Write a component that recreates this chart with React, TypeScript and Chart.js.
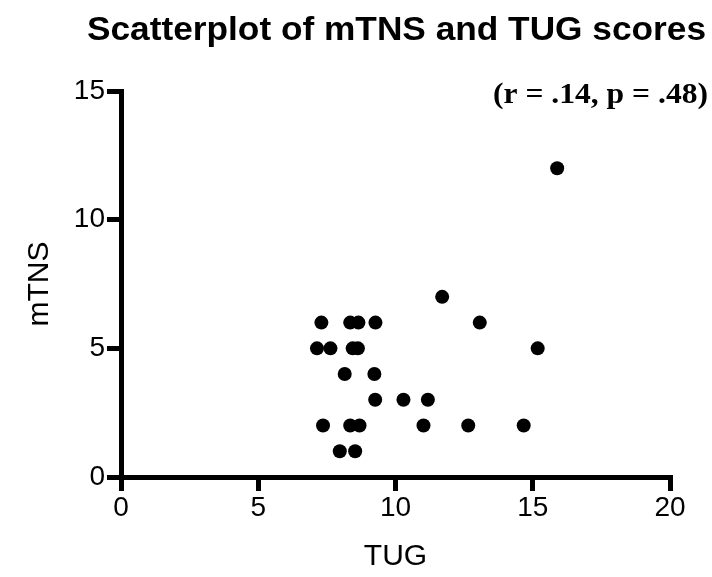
import React, { useEffect, useRef } from "react";
import { Chart, registerables } from "chart.js";

Chart.register(...registerables);

const tugValues = [7.3, 8.35, 8.65, 9.27, 13.07, 7.14, 7.63, 8.44, 8.63, 15.18, 8.15, 9.23, 9.26, 10.29, 11.18, 7.36, 8.35, 8.69, 11.02, 12.65, 14.67, 7.97, 8.53, 11.7, 15.89];
const mtnsValues = [6, 6, 6, 6, 6, 5, 5, 5, 5, 5, 4, 4, 3, 3, 3, 2, 2, 2, 2, 2, 2, 1, 1, 7, 12];
const xTicks = [0, 5, 10, 15, 20];
const yTicks = [0, 5, 10, 15];
const chartTitle = "Scatterplot of mTNS and TUG scores";
const statsNote = "(r = .14, p = .48)";
const xTitle = "TUG";
const yTitle = "mTNS";

function fitText(ctx: any, text: string, left: number, right: number, baseline: number) {
  const w = ctx.measureText(text).width;
  const sx = (right - left) / w;
  ctx.save();
  ctx.translate(left, baseline);
  ctx.scale(sx, 1);
  ctx.textAlign = "left";
  ctx.textBaseline = "alphabetic";
  ctx.fillText(text, 0, 0);
  ctx.restore();
}

const textPlugin = {
  id: "textPlugin",
  afterDraw(chart: any) {
    const ctx = chart.ctx;
    ctx.save();
    ctx.fillStyle = "#000";
    ctx.font = "bold 33px 'Liberation Sans', Arial, sans-serif";
    fitText(ctx, chartTitle, 87, 706, 40);
    ctx.font = "bold 30px 'Liberation Serif', 'Times New Roman', serif";
    fitText(ctx, statsNote, 493, 708, 103);
    ctx.restore();
  },
};

export default function App() {
  const ref = useRef<HTMLCanvasElement>(null);
  useEffect(() => {
    if (!ref.current) return;
    const points = tugValues.map((x, i) => ({ x, y: mtnsValues[i] }));
    const tickFont = { family: "'Liberation Sans Narrow', 'Arial Narrow', 'Liberation Sans', Arial, sans-serif", size: 28 };
    const titleFont = { family: "'Liberation Sans', Arial, sans-serif", size: 30 };
    const chart = new Chart(ref.current, {
      type: "scatter",
      data: {
        datasets: [
          {
            data: points,
            backgroundColor: "#000",
            borderWidth: 0,
            pointRadius: 7,
            pointHoverRadius: 7,
          },
        ],
      },
      options: {
        animation: false,
        responsive: false,
        layout: { padding: { top: 91, right: 42, left: 0, bottom: 0 } },
        plugins: { legend: { display: false }, tooltip: { enabled: false }, title: { display: false } },
        scales: {
          x: {
            type: "linear",
            min: 0,
            max: 20,
            afterFit: (s: any) => { s.height = 100; },
            afterBuildTicks: (s: any) => { s.ticks = xTicks.map((v) => ({ value: v })); },
            border: { display: true, color: "#000", width: 5 },
            grid: { drawOnChartArea: false, drawTicks: true, tickLength: 14, lineWidth: 5, color: "#000" },
            ticks: { color: "#000", font: tickFont, padding: 0, maxRotation: 0 },
            title: { display: true, text: xTitle, color: "#000", font: titleFont, padding: { bottom: 2, top: 0 } },
          },
          y: {
            type: "linear",
            min: 0,
            max: 15,
            afterFit: (s: any) => { s.width = 121; },
            afterBuildTicks: (s: any) => { s.ticks = yTicks.map((v) => ({ value: v })); },
            border: { display: true, color: "#000", width: 5 },
            grid: { drawOnChartArea: false, drawTicks: true, tickLength: 14, lineWidth: 5, color: "#000" },
            ticks: { color: "#000", font: tickFont, padding: 2 },
            title: { display: true, text: yTitle, color: "#000", font: titleFont, padding: { top: 22, bottom: 0 } },
          },
        },
      },
      plugins: [textPlugin],
    });
    return () => chart.destroy();
  }, []);
  return (
    <div style={{ position: "absolute", left: 0, top: 0, width: 712, height: 577, background: "#fff" }}>
      <canvas ref={ref} width={712} height={577} />
    </div>
  );
}
